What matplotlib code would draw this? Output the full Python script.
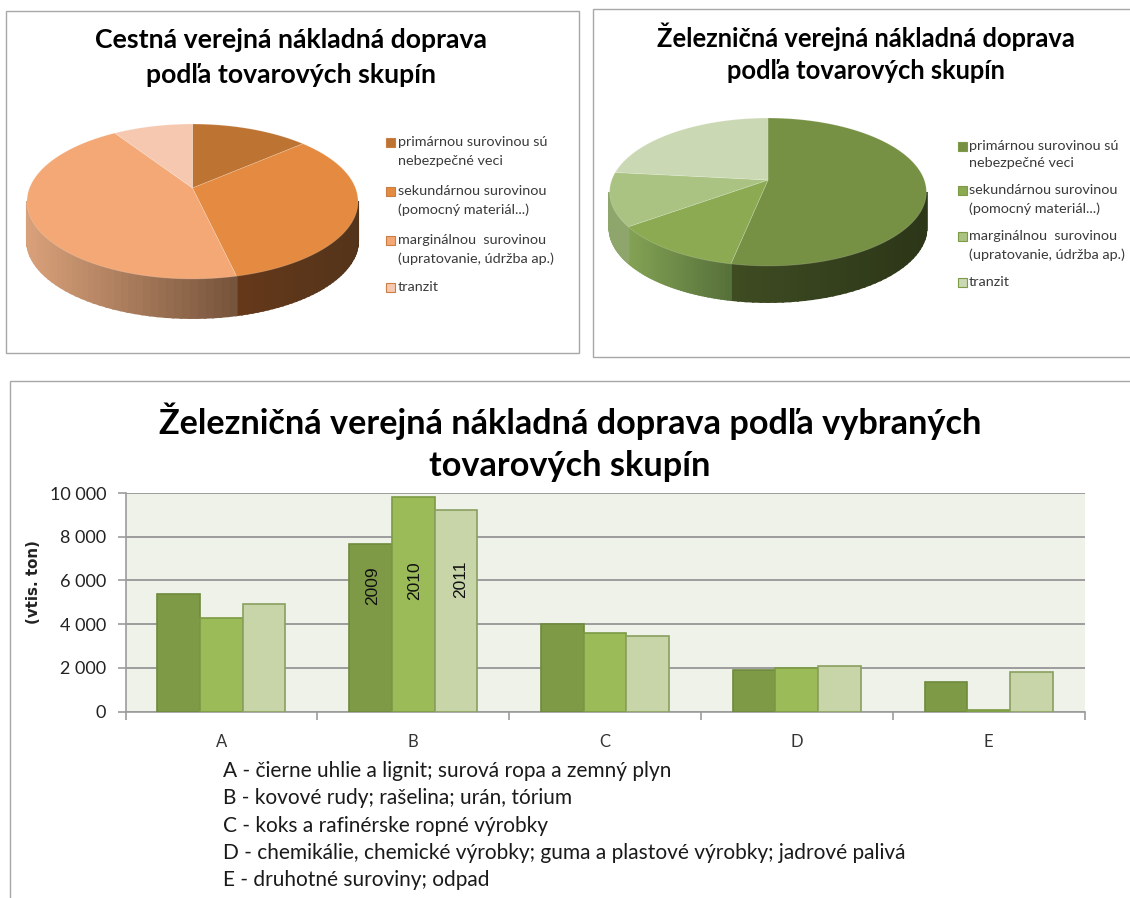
import numpy as np
import matplotlib
matplotlib.use('Agg')
import matplotlib.pyplot as plt
from matplotlib.colors import to_rgb
from matplotlib.patches import Rectangle

plt.rcParams['font.family'] = ['Lato', 'DejaVu Sans']

legend_lines = ['primárnou surovinou sú', 'nebezpečné veci',
                'sekundárnou surovinou', '(pomocný materiál...)',
                'marginálnou  surovinou', '(upratovanie, údržba ap.)',
                'tranzit']
road_shares = [13.6, 32.8, 44.4, 9.2]
rail_shares = [53.2, 11.8, 11.7, 23.3]

categories = ['A', 'B', 'C', 'D', 'E']
years = ['2009', '2010', '2011']
values_2009 = [5400, 7680, 4000, 1900, 1350]
values_2010 = [4280, 9800, 3600, 1980, 80]
values_2011 = [4920, 9220, 3450, 2080, 1820]
notes = ['A - čierne uhlie a lignit; surová ropa a zemný plyn',
         'B - kovové rudy; rašelina; urán, tórium',
         'C - koks a rafinérske ropné výrobky',
         'D - chemikálie, chemické výrobky; guma a plastové výrobky; jadrové palivá',
         'E - druhotné suroviny; odpad']

road_colors = ['#bd7433', '#e48b41', '#f3a876', '#f6c8b0']
road_sides = [('#66381a', '#66381a'), ('#66381a', '#53341a'), ('#d9a17a', '#75533b'), ('#f6c8b0', '#f6c8b0')]
rail_colors = ['#769044', '#8baa52', '#aac382', '#cad8b3']
rail_sides = [('#3f4c22', '#2c3618'), ('#84a254', '#56703a'), ('#8ea66c', '#8ea66c'), ('#aac382', '#aac382')]
bar_colors = ['#7f9a47', '#9bbb59', '#c7d5a9']
bar_edges = ['#6e8a3c', '#7c9a44', '#8aa060']

fig = plt.figure(figsize=(11.3, 8.98), dpi=100)
page = fig.add_axes([0, 0, 1, 1])
page.set_xlim(0, 1130)
page.set_ylim(898, 0)
page.axis('off')

for x0, y0, x1, y1 in [(6, 11, 579, 353), (593, 9, 1140, 357), (10, 381, 1140, 910)]:
    page.add_patch(Rectangle((x0, y0), x1 - x0, y1 - y0, fc='white', ec='#a8a8a8', lw=1.0, zorder=0))


def project(theta, cx, cy, a, b, k):
    # perspective view of the disc, theta goes clockwise from the top
    X, Y = np.sin(theta), np.cos(theta)
    w = 1 + k * Y
    return cx + a * X / w, cy - b * Y / w


def draw_pie(shares, colors, sides, cx, cy, a, b, k, depth):
    edges = np.radians(np.cumsum([0] + shares) * 3.6)
    limit = np.arccos(-k)
    for i in range(len(shares)):
        t0 = max(edges[i], limit)
        t1 = min(edges[i + 1], 2 * np.pi - limit)
        if t1 > t0:
            t = np.linspace(t0, t1, 41)
            x, y = project(t, cx, cy, a, b, k)
            c0, c1 = np.array(to_rgb(sides[i][0])), np.array(to_rgb(sides[i][1]))
            xmin, xmax = x.min(), x.max()
            for j in range(40):
                f = (0.5 * (x[j] + x[j + 1]) - xmin) / max(xmax - xmin, 1)
                c = c0 + (c1 - c0) * f
                page.fill([x[j], x[j + 1], x[j + 1], x[j]],
                          [y[j], y[j + 1], y[j + 1] + depth, y[j] + depth],
                          fc=c, ec=c, lw=1.5, zorder=1)
    for i in range(len(shares)):
        t = np.linspace(edges[i], edges[i + 1], 120)
        x, y = project(t, cx, cy, a, b, k)
        page.fill(np.r_[cx, x], np.r_[cy, y], fc=colors[i], ec='#ffffff30', lw=0.6, zorder=2)


def draw_legend(colors, sq_x, text_x, ys, edge):
    rows = [(0, 1), (2, 3), (4, 5), (6,)]
    for color, row in zip(colors, rows):
        page.add_patch(Rectangle((sq_x, ys[row[0]] - 4.5), 9, 9, fc=color, ec=edge, lw=0.8, zorder=3))
        for i in row:
            page.text(text_x, ys[i], legend_lines[i], fontsize=10.4, color='#3a3a3a', va='center', ha='left')


draw_pie(road_shares, road_colors, road_sides, 192.5, 188, 163, 75.1, 0.174, 39)
draw_pie(rail_shares, rail_colors, rail_sides, 768, 180, 156.3, 72, 0.162, 36)
draw_legend(road_colors, 386, 398, [142, 161, 191, 210, 240, 259, 287], '#c77f45')
draw_legend(rail_colors, 957.5, 969, [146, 163, 190.5, 209, 236.5, 255, 282], '#7f9a47')

title_style = dict(fontweight='bold', color='black', ha='center', va='center')
page.text(291, 40, 'Cestná verejná nákladná doprava', fontsize=19.2, **title_style)
page.text(291, 75, 'podľa tovarových skupín', fontsize=19.2, **title_style)
page.text(866, 37, 'Železničná verejná nákladná doprava', fontsize=18.4, **title_style)
page.text(866, 71, 'podľa tovarových skupín', fontsize=18.4, **title_style)
page.text(570, 421, 'Železničná verejná nákladná doprava podľa vybraných', fontsize=24.7, **title_style)
page.text(570, 466, 'tovarových skupín', fontsize=24.7, **title_style)

note_y = [771, 798, 826, 853, 880]
for y, note in zip(note_y, notes):
    page.text(223, y, note, fontsize=15, color='#1a1a1a', va='center', ha='left')

page.text(33, 582, '(vtis. ton)', rotation=90, fontsize=10.8, fontweight='bold',
          family='DejaVu Sans', ha='center', va='center', color='#222222')

# bar chart
ax = fig.add_axes([125.5 / 1130, 1 - 711.5 / 898, (1084.5 - 125.5) / 1130, (711.5 - 493) / 898])
ax.set_facecolor('#eff2e9')
x = np.arange(len(categories)) + 0.5
width = 0.2225
series = [values_2009, values_2010, values_2011]
for i, vals in enumerate(series):
    ax.bar(x + (i - 1) * width, vals, width, color=bar_colors[i], edgecolor=bar_edges[i], linewidth=1.2, zorder=3)

label_y = [5750, 6000, 6050]
for i, year in enumerate(years):
    ax.text(x[1] + (i - 1) * width + (0.01 if i < 2 else 0.025), label_y[i], year, rotation=90,
            family='Liberation Sans', fontsize=12.5, color='#111111', ha='center', va='center', zorder=4)

ax.set_xlim(0, 5)
ax.set_ylim(0, 10000)
ax.set_yticks(range(0, 10001, 2000))
ax.set_yticklabels(['0', '2 000', '4 000', '6 000', '8 000', '10 000'], fontsize=13, color='#222222')
ax.set_xticks(range(6))
ax.set_xticklabels([])
ax.set_xticks(x, minor=True)
ax.set_xticklabels(categories, minor=True, fontsize=12, color='#333333')
ax.tick_params(axis='x', which='minor', length=0, pad=16)
ax.tick_params(axis='x', which='major', length=6, width=1.2, color='#9c9c9c')
ax.tick_params(axis='y', length=6, width=1.2, color='#9c9c9c', pad=8)
ax.grid(True, axis='y', color='#9c9c9c', lw=1.4, zorder=1)
ax.set_axisbelow(True)
for s in ['top', 'right']:
    ax.spines[s].set_visible(False)
for s in ['left', 'bottom']:
    ax.spines[s].set_color('#9c9c9c')
    ax.spines[s].set_linewidth(1.2)

fig.savefig('out.png', dpi=100)
